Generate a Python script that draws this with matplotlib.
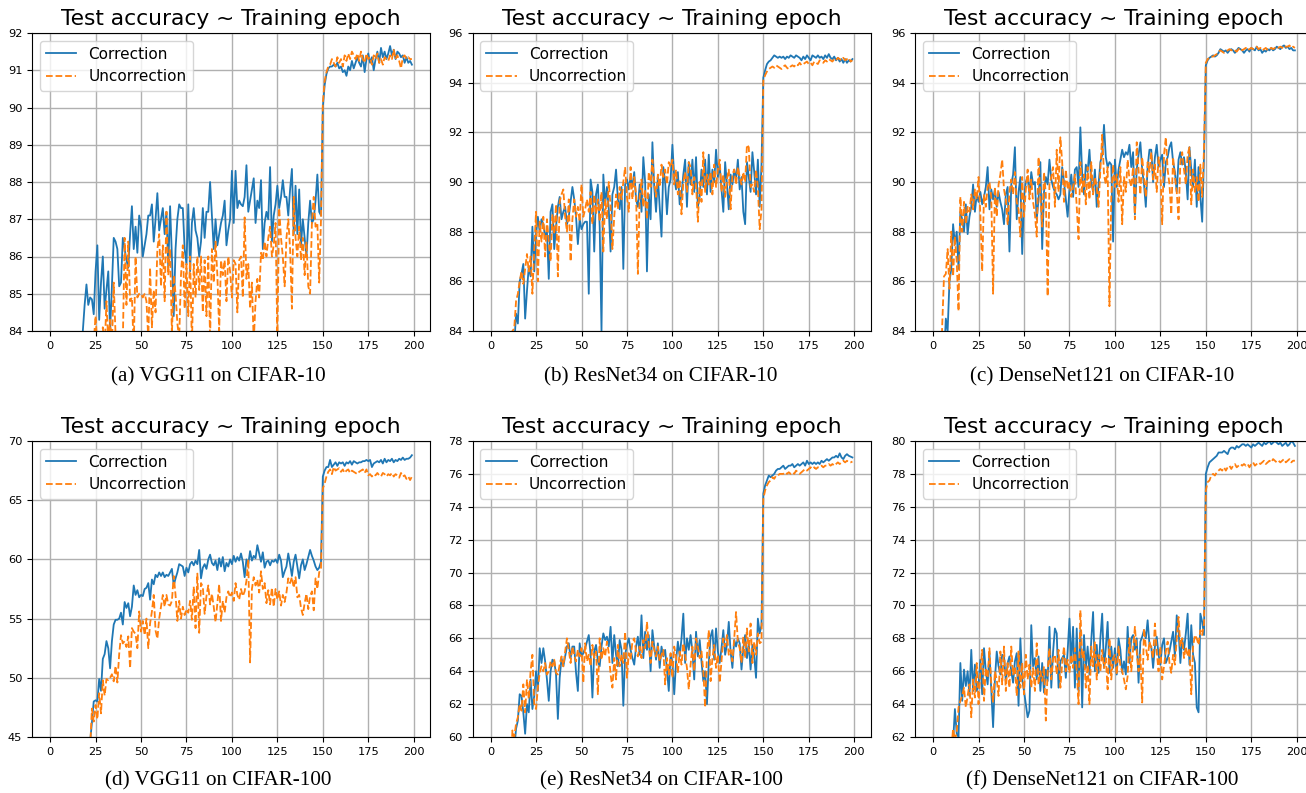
import numpy as np
import matplotlib.pyplot as plt

# test accuracy per epoch (200 epochs, lr drop at epoch 150)
a_corr = [62.1, 70.4, 74.8, 76.9, 78.3, 79.5, 80.2, 80.9, 81.4, 81.8,
          82.0, 82.4, 82.7, 82.5, 83.1, 83.0, 83.4, 83.6, 84.0, 84.7,
          85.25, 84.7, 84.9, 84.85, 84.45, 85.6, 86.3, 84.3, 85.3, 86.0,
          84.6, 85.1, 85.6, 84.0, 85.2, 86.5, 86.4, 86.2, 85.2, 85.3,
          86.5, 86.2, 85.9, 85.7, 86.6, 87.35, 86.2, 86.8, 86.1, 87.1,
          86.8, 86.0, 86.3, 86.6, 87.1, 87.1, 87.4, 86.4, 87.0, 87.7,
          86.7, 87.0, 87.3, 86.6, 87.2, 85.7, 87.35, 86.0, 84.4, 86.2,
          87.0, 87.4, 87.3, 87.3, 86.2, 85.8, 87.4, 85.6, 86.9, 87.3,
          86.7, 86.5, 86.0, 86.4, 87.3, 86.5, 87.2, 87.2, 88.0, 87.1,
          86.2, 87.0, 86.3, 86.6, 86.9, 87.1, 87.5, 86.3, 86.7, 87.0,
          88.3, 86.9, 88.3, 87.3, 87.5, 87.4, 87.35, 87.6, 88.45, 87.2,
          87.5, 87.8, 88.1, 86.9, 87.5, 87.3, 88.05, 86.2, 86.9, 87.2,
          87.0, 88.4, 86.4, 87.1, 87.4, 87.9, 87.3, 87.6, 88.05, 87.6,
          87.6, 87.1, 87.8, 88.35, 86.6, 87.9, 86.6, 87.8, 86.3, 87.0,
          86.5, 86.0, 86.9, 87.5, 86.9, 87.0, 87.5, 88.2, 87.2, 87.1,
          90.0, 90.6, 90.9, 91.05, 91.1, 91.1, 91.15, 91.1, 91.2, 91.05,
          91.1, 90.95, 91.0, 90.85, 91.1, 91.0, 91.25, 91.05, 91.2, 91.35,
          91.2, 91.1, 91.4, 90.95, 91.3, 91.45, 91.2, 91.35, 91.0, 91.3,
          91.5, 91.2, 91.6, 91.35, 91.5, 91.3, 91.45, 91.65, 91.4, 91.55,
          91.3, 91.5, 91.45, 91.35, 91.4, 91.2, 91.35, 91.2, 91.25, 91.15]
a_unc = [55.2, 66.0, 71.3, 74.5, 76.1, 77.6, 78.4, 79.2, 79.9, 80.3,
         80.9, 81.2, 81.6, 81.8, 82.1, 82.3, 82.7, 82.6, 83.0, 83.1,
         82.9, 83.3, 83.5, 83.2, 83.7, 84.4, 83.6, 83.8, 83.4, 84.1,
         83.5, 84.8, 83.7, 84.3, 83.6, 85.3, 83.9, 83.2, 83.6, 83.8,
         83.7, 86.5, 84.7, 86.4, 84.8, 84.9, 83.5, 86.0, 84.9, 85.0,
         85.0, 84.9, 85.0, 84.8, 83.8, 85.7, 84.1, 85.1, 84.5, 86.2,
         86.6, 85.2, 86.3, 84.8, 87.2, 85.5, 86.2, 83.9, 85.5, 85.0,
         84.2, 83.8, 85.5, 86.3, 84.6, 85.8, 84.4, 86.0, 83.6, 85.8,
         84.9, 86.0, 85.1, 86.0, 84.5, 85.9, 84.4, 86.0, 83.8, 86.2,
         85.3, 86.4, 85.5, 84.0, 85.9, 85.5, 85.9, 84.8, 86.0, 85.6,
         84.9, 85.9, 85.8, 84.5, 85.9, 86.0, 84.9, 87.05, 85.4, 85.8,
         84.6, 85.3, 83.7, 84.8, 85.4, 84.9, 86.1, 85.9, 86.4, 86.0,
         86.5, 86.8, 86.0, 86.3, 86.9, 83.8, 87.3, 86.5, 86.0, 85.2,
         86.5, 87.0, 86.2, 84.6, 87.6, 86.5, 86.0, 86.8, 85.9, 86.5,
         85.5, 86.4, 85.2, 85.0, 86.9, 87.6, 86.8, 86.9, 85.3, 87.0,
         90.1, 90.7, 90.95, 91.1, 91.15, 91.3, 91.2, 91.1, 91.35, 91.2,
         91.3, 91.1, 91.4, 91.25, 91.45, 91.3, 91.5, 91.4, 91.3, 91.45,
         91.25, 91.5, 91.3, 91.2, 91.45, 91.3, 91.35, 91.15, 91.4, 91.3,
         91.45, 91.2, 91.3, 91.15, 91.35, 91.3, 91.25, 91.4, 91.3, 91.55,
         91.3, 91.4, 91.25, 91.05, 91.35, 91.4, 91.3, 91.35, 91.3, 91.3]

b_corr = [45.0, 60.2, 66.8, 71.5, 74.0, 76.3, 77.5, 78.9, 79.8, 80.6,
          81.2, 82.0, 82.6, 83.4, 84.7, 84.3, 86.0, 86.3, 86.7, 84.5,
          85.6, 86.6, 86.2, 88.2, 86.4, 87.9, 88.6, 88.0, 88.5, 88.3,
          87.8, 88.0, 86.1, 88.8, 89.1, 87.3, 88.2, 89.0, 89.4, 88.5,
          88.8, 89.0, 88.3, 88.6, 89.2, 89.8, 89.3, 88.6, 87.5, 88.5,
          88.1, 88.3, 88.4, 88.4, 85.5, 90.1, 89.6, 87.2, 89.5, 89.9,
          88.2, 84.0, 90.3, 89.1, 89.8, 88.9, 87.2, 89.5, 89.8, 90.5,
          89.3, 88.9, 89.8, 86.5, 89.9, 90.1, 89.7, 90.2, 89.8, 90.4,
          89.3, 89.0, 89.9, 88.8, 91.0, 90.0, 86.4, 89.5, 88.5, 91.6,
          89.8, 88.8, 90.2, 89.0, 87.8, 90.6, 90.0, 88.7, 89.8, 90.1,
          91.5, 90.2, 89.7, 90.4, 89.1, 89.5, 90.3, 90.9, 89.0, 90.8,
          89.9, 90.9, 89.6, 91.0, 89.0, 89.4, 90.5, 89.8, 90.9, 89.5,
          91.1, 89.6, 90.5, 90.0, 91.3, 90.2, 90.7, 89.7, 88.8, 90.8,
          89.9, 88.9, 90.3, 89.9, 90.5, 90.1, 90.9, 89.7, 90.2, 88.8,
          88.3, 90.8, 90.2, 89.6, 91.2, 90.4, 89.5, 90.9, 89.0, 90.7,
          94.2, 94.5, 94.75, 94.85, 94.9, 95.0, 95.1, 95.05, 95.0, 95.05,
          95.0, 95.05, 94.95, 95.05, 95.0, 95.1, 95.05, 95.0, 95.1, 95.05,
          95.0, 94.9, 95.05, 94.95, 95.1, 95.0, 94.9, 95.1, 95.05, 95.0,
          95.1, 95.0, 95.05, 94.95, 95.1, 95.0, 95.15, 95.0, 94.95, 95.05,
          94.9, 95.0, 94.85, 94.95, 94.8, 94.95, 94.8, 94.9, 94.85, 94.95]
b_unc = [42.0, 58.5, 66.0, 70.8, 73.5, 75.9, 77.4, 78.6, 79.6, 80.4,
         81.1, 81.9, 84.0, 84.1, 85.2, 85.5, 86.0, 86.4, 85.9, 86.5,
         87.1, 86.4, 87.0, 85.5, 87.3, 88.8, 86.0, 88.4, 87.6, 88.6,
         87.0, 88.5, 87.6, 86.8, 88.7, 87.9, 89.1, 86.2, 89.2, 89.5,
         89.7, 88.6, 88.0, 89.3, 86.8, 88.5, 89.3, 88.6, 89.0, 88.4,
         89.9, 88.6, 88.9, 89.3, 88.8, 89.6, 88.3, 89.5, 88.7, 89.3,
         88.4, 89.6, 87.2, 89.3, 88.5, 90.0, 89.0, 87.3, 88.6, 89.5,
         88.9, 89.8, 89.3, 90.0, 90.6, 89.4, 88.8, 90.6, 89.3, 90.2,
         89.5, 86.3, 89.4, 90.1, 89.0, 89.7, 88.5, 90.4, 89.8, 90.9,
         90.0, 89.4, 90.3, 89.8, 90.7, 90.2, 90.5, 89.9, 90.8, 90.6,
         90.9, 89.9, 90.5, 89.5, 90.1, 88.7, 90.0, 90.4, 89.6, 90.8,
         90.6, 89.5, 90.2, 89.9, 88.4, 90.0, 89.2, 91.2, 89.6, 90.3,
         89.9, 90.4, 89.5, 90.7, 89.8, 90.5, 90.9, 89.6, 90.3, 89.4,
         90.1, 90.5, 88.9, 90.3, 90.5, 89.9, 90.6, 90.2, 89.9, 90.4,
         90.0, 91.5, 91.4, 89.8, 89.9, 89.6, 90.5, 89.8, 88.1, 88.9,
         94.1, 94.3, 94.45, 94.55, 94.6, 94.65, 94.6, 94.7, 94.65, 94.6,
         94.55, 94.65, 94.7, 94.6, 94.55, 94.65, 94.7, 94.65, 94.75, 94.7,
         94.8, 94.7, 94.75, 94.8, 94.85, 94.75, 94.8, 94.7, 94.85, 94.8,
         94.75, 94.9, 94.85, 94.8, 94.9, 94.85, 94.95, 94.9, 94.85, 94.95,
         94.9, 95.0, 94.95, 94.9, 95.0, 94.9, 94.95, 95.0, 94.85, 94.9]

c_corr = [60.5, 72.0, 76.5, 79.2, 80.8, 81.9, 82.8, 84.5, 84.0, 86.0,
          86.5, 88.3, 87.5, 88.0, 86.5, 88.8, 88.5, 88.0, 89.1, 87.9,
          88.6, 89.0, 89.9, 88.8, 89.5, 89.2, 89.6, 89.1, 89.4, 89.8,
          90.6, 88.9, 89.7, 89.3, 89.7, 89.0, 89.6, 89.2, 88.9, 88.3,
          89.5, 89.8, 87.2, 89.9, 90.3, 91.4, 88.5, 89.6, 90.2, 87.1,
          89.4, 90.0, 90.2, 89.5, 90.4, 89.9, 90.0, 88.5, 89.3, 90.8,
          87.3, 89.6, 90.2, 89.9, 90.9, 90.1, 89.8, 89.6, 89.5, 89.3,
          89.5, 90.6, 90.0, 89.3, 88.6, 89.7, 90.3, 89.4, 90.5, 90.6,
          89.8, 92.2, 90.3, 89.5, 90.7, 90.4, 91.3, 90.0, 89.6, 90.5,
          89.0, 89.9, 90.8, 91.1, 92.3, 91.0, 90.6, 90.8, 90.7, 87.6,
          90.9, 89.8, 90.5, 90.9, 91.3, 91.0, 91.2, 91.1, 91.5, 90.6,
          91.2, 88.7, 90.5, 91.1, 91.6, 90.5, 89.9, 89.0, 90.6, 91.3,
          91.3, 90.0, 91.0, 91.5, 90.6, 90.9, 91.1, 89.8, 90.8, 91.0,
          91.4, 91.6, 90.8, 90.4, 89.6, 90.9, 91.2, 90.7, 91.0, 90.4,
          89.3, 91.4, 90.5, 89.8, 90.9, 89.0, 90.6, 89.4, 88.4, 91.0,
          94.7, 94.9, 95.0, 95.05, 95.1, 95.05, 95.1, 95.2, 95.35, 95.3,
          95.25, 95.3, 95.2, 95.3, 95.35, 95.3, 95.2, 95.3, 95.4, 95.35,
          95.3, 95.2, 95.3, 95.35, 95.25, 95.4, 95.35, 95.3, 95.45, 95.3,
          95.35, 95.2, 95.3, 95.25, 95.35, 95.3, 95.4, 95.3, 95.35, 95.45,
          95.4, 95.35, 95.45, 95.5, 95.4, 95.45, 95.35, 95.4, 95.3, 95.3]
c_unc = [58.0, 71.0, 76.0, 79.0, 81.5, 84.2, 86.2, 86.3, 87.3, 85.7,
         88.0, 86.2, 87.8, 86.8, 84.8, 89.4, 88.0, 89.2, 88.3, 89.0,
         88.8, 89.5, 88.9, 89.7, 89.3, 90.2, 88.7, 86.4, 89.5, 89.0,
         89.8, 90.0, 89.4, 85.5, 89.8, 88.6, 89.9, 90.3, 90.9, 89.7,
         89.3, 88.3, 89.6, 90.1, 89.5, 90.4, 89.2, 88.9, 87.8, 90.2,
         88.6, 89.7, 90.5, 89.3, 90.1, 89.2, 88.7, 87.8, 91.0, 89.4,
         88.2, 90.4, 89.5, 85.4, 89.9, 90.2, 90.6, 89.0, 91.3, 89.6,
         91.8, 90.8, 89.2, 90.5, 89.7, 90.0, 89.4, 89.8, 90.3, 89.0,
         87.7, 90.8, 89.6, 90.3, 89.1, 90.6, 89.3, 90.8, 89.5, 90.2,
         89.8, 89.0, 90.5, 91.9, 90.3, 89.9, 90.6, 85.0, 89.4, 90.7,
         89.8, 90.3, 89.2, 90.6, 88.3, 90.2, 89.6, 90.9, 90.1, 89.8,
         90.6, 88.5, 91.6, 90.5, 89.5, 91.0, 90.2, 89.4, 90.8, 90.4,
         91.2, 90.1, 90.7, 89.6, 91.0, 90.5, 88.3, 91.1, 91.8, 90.5,
         89.9, 88.7, 91.0, 90.2, 89.6, 88.5, 90.8, 91.2, 90.5, 89.9,
         91.1, 91.4, 89.1, 90.5, 89.6, 90.2, 89.2, 90.7, 89.4, 91.3,
         94.8, 94.95, 95.0, 95.05, 95.05, 95.1, 95.15, 95.25, 95.3, 95.25,
         95.2, 95.25, 95.3, 95.35, 95.3, 95.35, 95.3, 95.25, 95.35, 95.4,
         95.3, 95.35, 95.4, 95.3, 95.35, 95.4, 95.35, 95.4, 95.45, 95.35,
         95.4, 95.3, 95.35, 95.4, 95.3, 95.35, 95.4, 95.35, 95.4, 95.45,
         95.4, 95.45, 95.4, 95.5, 95.45, 95.45, 95.5, 95.4, 95.45, 95.4]

d_corr = [10.0, 16.5, 22.0, 25.8, 28.7, 31.0, 32.9, 34.5, 35.8, 36.9,
          37.8, 38.6, 39.5, 40.1, 40.8, 41.3, 41.9, 42.4, 42.9, 43.3,
          43.8, 44.2, 44.6, 46.2, 48.0, 48.1, 48.0, 49.9, 48.9, 51.6,
          52.0, 53.1, 52.5, 50.8, 53.1, 54.5, 54.9, 54.9, 55.0, 55.5,
          54.5, 56.4, 55.9, 56.3, 55.2, 56.0, 57.8, 57.0, 57.4, 56.8,
          57.0, 56.9, 57.5, 57.6, 58.0, 56.6, 58.3, 57.9, 58.7, 58.5,
          58.9, 58.6, 58.9, 58.5, 58.7, 58.6, 58.9, 59.2, 57.8, 58.4,
          58.9, 59.6, 59.5, 59.4, 58.6, 59.3, 58.9, 59.6, 59.8, 59.5,
          59.9, 59.6, 60.8, 58.4, 59.3, 59.6, 59.2, 60.0, 60.4, 59.7,
          59.5, 59.9, 59.1, 60.1, 59.4, 60.2, 59.0, 59.7, 59.4, 60.0,
          59.6, 60.3, 59.8, 60.2, 59.9, 60.5, 59.8, 58.5, 60.0, 59.6,
          60.7, 59.9, 60.3, 60.1, 61.2, 60.5, 59.8, 60.6, 59.3, 59.8,
          59.9, 59.5, 59.9, 59.8, 60.0, 59.7, 60.4, 59.9, 58.5, 59.0,
          59.4, 60.5, 59.6, 58.6, 59.8, 60.4, 59.4, 58.4, 59.5, 60.0,
          59.1, 59.6, 60.2, 60.8, 60.3, 59.9, 59.4, 59.1, 59.3, 59.8,
          67.0, 67.5, 67.8, 67.8, 68.4, 67.8, 68.0, 68.2, 67.9, 68.2,
          68.1, 68.2, 67.9, 68.2, 68.1, 68.3, 68.0, 68.3, 68.2, 68.1,
          68.2, 68.2, 68.3, 68.3, 68.4, 68.3, 68.4, 67.8, 68.1, 68.2,
          68.3, 68.2, 68.4, 68.1, 68.5, 68.2, 68.4, 68.3, 68.5, 68.2,
          68.4, 68.3, 68.5, 68.4, 68.6, 68.4, 68.5, 68.5, 68.6, 68.8]
d_unc = [9.0, 15.8, 21.3, 25.1, 28.0, 30.4, 32.3, 33.9, 35.2, 36.4,
         37.3, 38.1, 38.9, 39.6, 40.2, 40.8, 41.4, 41.9, 42.4, 42.8,
         43.2, 43.6, 44.0, 47.4, 46.3, 47.7, 46.5, 48.7, 47.0, 49.8,
         48.5, 49.9, 49.8, 50.0, 50.3, 49.7, 51.0, 49.6, 52.0, 53.6,
         52.9, 53.1, 52.6, 53.5, 50.8, 54.2, 53.9, 53.7, 52.5, 55.6,
         53.9, 54.8, 53.6, 55.0, 52.5, 54.6, 55.6, 57.0, 54.0, 53.3,
         55.0, 56.0, 57.0, 56.0, 57.0, 56.2, 56.1, 56.5, 58.6, 57.0,
         54.8, 56.5, 55.0, 56.0, 55.3, 55.8, 55.5, 56.5, 54.9, 57.7,
         54.2, 58.8, 53.8, 58.0, 57.7, 55.4, 56.9, 57.8, 56.2, 57.1,
         56.0, 54.7, 56.3, 57.9, 54.8, 56.5, 55.5, 56.8, 57.3, 56.8,
         57.2, 56.5, 58.0, 57.0, 56.6, 57.5, 56.9, 57.3, 58.2, 60.0,
         51.3, 57.5, 58.5, 57.8, 58.3, 57.2, 59.0, 57.5, 58.0, 56.3,
         57.4, 56.2, 57.6, 56.0, 57.5, 56.6, 57.3, 56.1, 57.0, 56.4,
         57.2, 58.4, 58.0, 58.5, 57.6, 58.5, 56.8, 57.0, 55.9, 55.3,
         56.3, 57.1, 55.8, 56.9, 57.3, 55.7, 58.4, 57.5, 58.9, 59.3,
         66.0, 66.4, 67.0, 67.4, 67.6, 67.2, 67.8, 67.5, 67.6, 67.7,
         67.4, 67.6, 67.3, 67.5, 67.6, 67.3, 67.5, 67.4, 67.3, 67.2,
         67.4, 67.5, 67.6, 67.3, 67.6, 67.1, 67.2, 67.0, 67.2, 67.1,
         67.3, 67.1, 67.0, 67.3, 67.2, 67.0, 67.2, 67.1, 67.3, 67.0,
         67.2, 67.1, 66.9, 67.3, 67.0, 67.1, 66.8, 67.0, 66.7, 67.0]

e_corr = [20.0, 31.5, 38.6, 43.2, 46.8, 49.5, 51.6, 53.3, 54.6, 55.8,
          56.8, 57.7, 58.5, 59.2, 60.5, 61.0, 62.6, 62.5, 61.5, 60.2,
          62.0, 61.5, 63.5, 61.7, 62.5, 64.0, 62.8, 65.4, 64.5, 65.4,
          64.6, 63.5, 62.2, 64.0, 64.7, 64.6, 63.8, 61.1, 63.6, 64.8,
          64.3, 64.9, 65.5, 65.7, 64.8, 65.5, 65.5, 63.9, 62.8, 65.7,
          64.9, 65.1, 65.4, 65.8, 66.2, 65.0, 62.4, 65.2, 65.6, 64.6,
          64.3, 65.5, 66.3, 65.9, 66.1, 65.5, 66.7, 64.5, 66.2, 65.0,
          64.3, 65.9, 65.3, 61.9, 65.0, 65.6, 66.0, 65.3, 64.8, 64.4,
          65.5, 66.1, 65.0, 67.4, 64.8, 66.4, 65.3, 66.2, 64.0, 66.5,
          65.5, 64.7, 65.7, 64.2, 65.5, 64.9, 65.3, 64.1, 62.8, 65.0,
          64.5, 62.6, 64.6, 65.8, 64.9, 66.0, 67.5, 64.5, 66.0, 65.3,
          66.2, 65.2, 63.5, 66.4, 64.9, 65.9, 64.6, 63.4, 64.0, 62.0,
          64.5, 66.1, 66.5, 64.7, 66.6, 65.2, 64.5, 65.4, 66.5, 65.0,
          65.6, 67.0, 65.2, 64.2, 65.9, 65.5, 66.0, 65.7, 64.1, 65.4,
          66.2, 64.8, 65.7, 64.1, 65.6, 64.9, 63.6, 67.2, 66.3, 66.8,
          74.8, 75.3, 75.6, 75.9, 75.8, 75.9, 76.0, 76.2, 76.3, 76.3,
          76.4, 76.5, 76.3, 76.4, 76.5, 76.5, 76.6, 76.4, 76.5, 76.6,
          76.5, 76.6, 76.7, 76.5, 76.8, 76.6, 76.7, 76.6, 76.7, 76.6,
          76.7, 76.6, 76.8, 76.7, 76.8, 76.9, 76.8, 76.9, 77.0, 77.0,
          77.1, 77.0, 77.25, 77.0, 76.9, 77.1, 77.2, 77.1, 77.05, 77.0]
e_unc = [18.0, 30.0, 37.5, 42.5, 46.2, 49.0, 51.2, 53.0, 54.5, 55.7,
         56.7, 57.6, 60.4, 60.0, 60.8, 61.2, 62.0, 61.6, 63.2, 61.5,
         63.5, 62.3, 64.0, 65.0, 62.0, 61.7, 63.0, 63.9, 64.3, 64.0,
         64.5, 63.8, 64.0, 64.6, 64.3, 64.7, 63.9, 63.8, 64.4, 64.9,
         64.3, 65.2, 66.0, 65.3, 64.5, 65.5, 65.0, 64.6, 65.3, 64.9,
         65.4, 63.3, 65.7, 64.6, 65.0, 64.3, 65.6, 64.8, 65.2, 62.6,
         66.0, 64.7, 65.4, 64.9, 65.8, 65.1, 63.8, 63.0, 64.8, 63.5,
         65.6, 64.3, 65.0, 64.5, 66.4, 63.6, 65.1, 64.7, 65.8, 66.0,
         65.2, 64.9, 65.5, 64.8, 65.9, 65.4, 67.0, 65.6, 64.5, 65.8,
         65.3, 64.9, 65.5, 64.6, 65.0, 65.3, 63.2, 64.8, 63.8, 65.1,
         63.6, 65.5, 64.9, 63.9, 65.2, 64.4, 65.7, 65.0, 64.2, 62.9,
         64.4, 65.5, 64.0, 66.0, 65.5, 64.8, 65.2, 64.0, 61.8, 65.0,
         66.5, 63.4, 64.8, 65.6, 64.2, 65.0, 63.3, 64.6, 66.0, 65.5,
         66.2, 65.0, 65.3, 64.6, 66.0, 67.6, 65.8, 65.4, 64.5, 66.1,
         64.8, 66.6, 65.2, 66.9, 64.5, 65.8, 65.0, 66.3, 65.7, 65.8,
         74.5, 75.0, 75.3, 75.5, 75.6, 75.8, 75.7, 75.9, 75.9, 76.0,
         76.0, 76.0, 76.1, 76.0, 76.1, 76.0, 76.1, 76.0, 76.2, 76.1,
         76.0, 76.1, 76.2, 76.3, 76.2, 76.3, 76.4, 76.3, 76.4, 76.3,
         76.4, 76.4, 76.5, 76.4, 76.5, 76.5, 76.6, 76.5, 76.6, 76.5,
         76.6, 76.7, 76.6, 76.7, 76.8, 76.7, 76.8, 76.7, 76.7, 76.75]

f_corr = [25.0, 38.0, 45.5, 50.3, 53.8, 56.1, 57.9, 59.2, 60.1, 60.8,
          61.3, 61.7, 63.7, 62.2, 62.0, 66.5, 64.2, 66.1, 65.1, 66.0,
          64.5, 67.3, 64.8, 66.4, 64.8, 65.1, 66.7, 64.6, 67.4, 66.0,
          65.2, 67.1, 64.8, 62.6, 65.5, 67.2, 66.3, 65.8, 67.0, 66.9,
          65.4, 66.5, 66.9, 66.0, 65.3, 66.6, 67.1, 63.9, 68.0, 65.5,
          64.8, 64.0, 63.2, 63.6, 68.8, 66.3, 66.8, 65.5, 66.9, 64.8,
          66.5, 64.7, 66.1, 65.4, 68.7, 65.0, 67.2, 68.6, 68.3, 65.0,
          66.6, 66.8, 67.0, 65.6, 67.2, 69.2, 66.5, 68.7, 65.0, 68.6,
          64.8, 68.5, 63.8, 68.2, 66.2, 67.5, 65.8, 67.9, 69.6, 66.0,
          67.6, 65.9, 68.0, 69.5, 66.2, 67.4, 69.0, 65.9, 67.5, 66.2,
          67.4, 65.8, 68.0, 67.3, 65.9, 66.6, 65.8, 68.7, 66.5, 68.0,
          68.2, 67.3, 68.0, 65.3, 67.8, 68.1, 68.5, 68.0, 69.1, 67.6,
          67.5, 66.2, 67.5, 68.1, 67.0, 66.4, 67.6, 68.0, 66.5, 66.8,
          67.2, 67.8, 68.4, 66.9, 69.4, 68.5, 66.5, 68.0, 67.3, 68.3,
          69.5, 66.4, 68.8, 67.0, 66.5, 63.8, 63.5, 69.5, 69.0, 68.2,
          78.0, 78.4, 78.7, 78.8, 78.9, 79.0, 79.1, 79.3, 79.3, 79.3,
          79.4, 79.3, 79.2, 79.5, 79.6, 79.6, 79.5, 79.7, 79.6, 79.7,
          79.8, 79.8, 79.7, 79.8, 79.7, 79.6, 79.8, 79.7, 79.8, 79.9,
          79.8, 79.7, 79.9, 79.8, 79.9, 80.0, 79.8, 79.9, 80.0, 79.9,
          79.8, 79.9, 79.7, 79.8, 79.9, 79.7, 79.8, 80.0, 79.9, 79.7]
f_unc = [22.0, 36.0, 44.0, 49.2, 53.0, 55.5, 57.4, 58.8, 59.8, 60.6,
         61.2, 62.5, 61.8, 62.3, 63.8, 64.2, 64.5, 65.0, 63.8, 64.5,
         65.2, 63.2, 65.5, 64.4, 66.5, 64.0, 66.0, 67.3, 64.2, 66.2,
         65.6, 67.4, 65.2, 64.1, 66.0, 65.5, 64.5, 67.2, 65.2, 67.5,
         64.8, 66.5, 65.0, 67.5, 65.8, 66.3, 64.5, 67.2, 65.0, 66.5,
         64.6, 67.0, 65.5, 66.4, 65.0, 66.2, 64.8, 67.7, 65.2, 66.0,
         65.4, 66.3, 63.0, 66.0, 67.4, 65.5, 66.8, 67.0, 65.8, 67.3,
         65.0, 66.5, 67.5, 66.0, 66.7, 65.9, 67.0, 66.2, 67.4, 66.0,
         64.0, 69.7, 66.8, 67.2, 65.0, 66.4, 64.0, 67.5, 66.3, 67.8,
         65.5, 67.0, 66.0, 67.3, 66.2, 66.8, 64.9, 68.0, 65.5, 66.8,
         67.0, 65.8, 67.5, 66.3, 66.0, 65.5, 64.9, 65.7, 68.0, 66.0,
         67.3, 68.7, 67.2, 66.0, 67.0, 64.1, 68.6, 67.5, 66.7, 67.8,
         67.4, 66.8, 68.9, 67.2, 66.0, 67.5, 65.5, 66.3, 67.2, 67.8,
         66.5, 65.9, 67.0, 66.4, 68.0, 69.3, 67.5, 68.0, 66.8, 67.5,
         66.9, 67.4, 64.6, 67.5, 68.2, 68.0, 67.6, 68.5, 68.2, 68.9,
         77.0, 77.5, 77.6, 77.9, 78.0, 77.9, 78.1, 78.2, 78.3, 78.2,
         78.4, 78.2, 78.4, 78.5, 78.3, 78.5, 78.6, 78.4, 78.5, 78.6,
         78.5, 78.6, 78.5, 78.6, 78.4, 78.6, 78.7, 78.5, 78.6, 78.7,
         78.6, 78.7, 78.8, 78.6, 78.7, 78.8, 78.7, 78.9, 78.8, 78.7,
         78.8, 78.7, 78.8, 78.9, 78.7, 78.8, 78.9, 78.7, 78.8, 78.8]

captions = ['(a) VGG11 on CIFAR-10', '(b) ResNet34 on CIFAR-10',
            '(c) DenseNet121 on CIFAR-10', '(d) VGG11 on CIFAR-100',
            '(e) ResNet34 on CIFAR-100', '(f) DenseNet121 on CIFAR-100']
ylims = [(84, 92), (84, 96), (84, 96), (45, 70), (60, 78), (62, 80)]
ysteps = [1, 2, 2, 5, 2, 2]
xticks = list(range(0, 201, 25))

panels = list(zip(captions,
                  [a_corr, b_corr, c_corr, d_corr, e_corr, f_corr],
                  [a_unc, b_unc, c_unc, d_unc, e_unc, f_unc],
                  ylims, ysteps))

W, H = 1306, 793
fig = plt.figure(figsize=(W / 100, H / 100), dpi=100)

# axes boxes in pixels: left, top, width, height
lefts = [32, 472.5, 915]
tops = [33, 441]
heights = [298, 296]
cap_x = [218, 661, 1102]
cap_y = [377, 781]

for i, (cap, corr, unc, ylim, ystep) in enumerate(panels):
    row, col = divmod(i, 3)
    l, t, h = lefts[col], tops[row], heights[row]
    ax = fig.add_axes([l / W, 1 - (t + h) / H, 398 / W, h / H])
    ax.plot(np.arange(len(corr)), corr, color='#1f77b4', lw=1.3,
            label='Correction')
    ax.plot(np.arange(len(unc)), unc, '--', color='#ff7f0e', lw=1.3,
            label='Uncorrection')
    ax.set_ylim(*ylim)
    ax.set_yticks(np.arange(ylim[0], ylim[1] + 0.01, ystep))
    ax.set_xticks(xticks)
    ax.tick_params(labelsize=8.2)
    ax.grid(True, lw=1.0)
    ax.set_title('Test accuracy ~ Training epoch', fontsize=15.7)
    ax.legend(loc='upper left', fontsize=11)
    fig.text(cap_x[col] / W, 1 - cap_y[row] / H, cap, ha='center',
             va='center', family='Liberation Serif', fontsize=15.2)

fig.savefig('out.png', dpi=100)
